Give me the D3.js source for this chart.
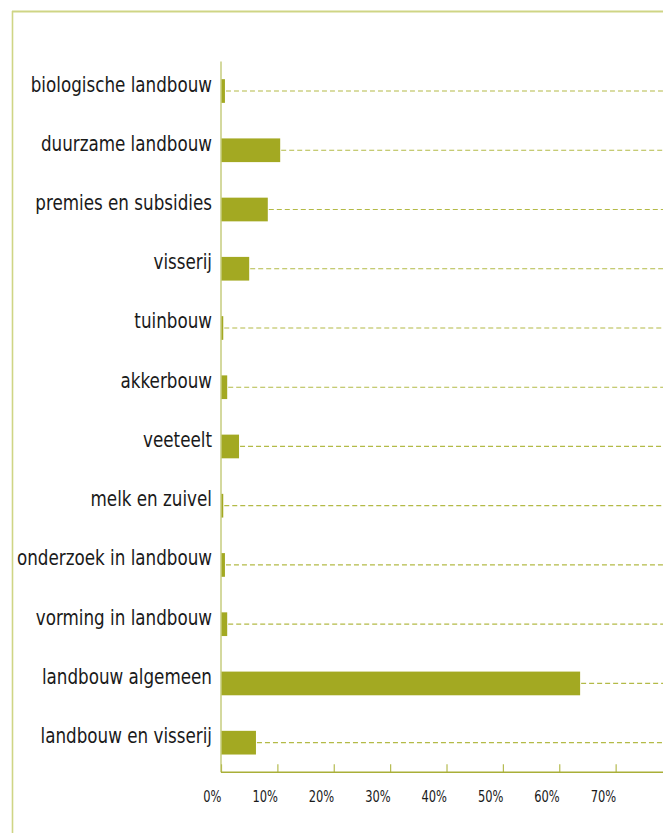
<!DOCTYPE html>
<html>
<head>
<meta charset="utf-8">
<script src="https://cdn.jsdelivr.net/npm/d3@7"></script>
<style>
  html, body { margin: 0; padding: 0; background: #ffffff; }
  svg { display: block; }
  .cat { font-family: "DejaVu Sans Condensed", "DejaVu Sans", sans-serif; font-stretch: condensed; font-size: 20.5px; fill: #1a1a1a; }
  .tick-label { font-family: "DejaVu Sans Condensed", "DejaVu Sans", sans-serif; font-stretch: condensed; font-size: 15px; fill: #1a1a1a; }
</style>
</head>
<body>
<script>
// Share of spending per agricultural domain (percent)
const categories = [
  "biologische landbouw",
  "duurzame landbouw",
  "premies en subsidies",
  "visserij",
  "tuinbouw",
  "akkerbouw",
  "veeteelt",
  "melk en zuivel",
  "onderzoek in landbouw",
  "vorming in landbouw",
  "landbouw algemeen",
  "landbouw en visserij"
];
const values = [0.7, 10.5, 8.3, 5.0, 0.4, 1.1, 3.2, 0.4, 0.7, 1.1, 63.7, 6.2];
const tickValues = [0, 10, 20, 30, 40, 50, 60, 70];
const tickLabels = ["0%", "10%", "20%", "30%", "40%", "50%", "60%", "70%"];

const W = 663, H = 833;
const plotLeft = 221, plotRight = 663, plotTop = 61.4, plotBottom = 772.3;
const labelRight = 212;      // right edge of category labels
const labelMaxWidth = 195;   // width of the longest category label

const svg = d3.select("body").append("svg")
  .attr("width", W).attr("height", H);

// Outer frame (top and left edges visible)
svg.append("line")
  .attr("x1", 12).attr("x2", W).attr("y1", 11.5).attr("y2", 11.5)
  .attr("stroke", "#cfd585").attr("stroke-width", 2);
svg.append("line")
  .attr("x1", 12.5).attr("x2", 12.5).attr("y1", 11).attr("y2", H)
  .attr("stroke", "#cfd585").attr("stroke-width", 1.6);

const x = d3.scaleLinear().domain([0, 78.4]).range([plotLeft, plotRight]);
const y = d3.scaleBand().domain(categories).range([plotTop, plotBottom])
  .paddingInner(0.6).paddingOuter(0.3);

const data = categories.map((c, i) => ({ cat: c, value: values[i] }));

// Dashed guide lines from each bar's end to the right edge
svg.append("g").selectAll("line")
  .data(data).join("line")
  .attr("x1", d => x(d.value) + 1)
  .attr("x2", plotRight)
  .attr("y1", d => y(d.cat) + y.bandwidth() / 2)
  .attr("y2", d => y(d.cat) + y.bandwidth() / 2)
  .attr("stroke", "#b3ba47")
  .attr("stroke-width", 1.2)
  .attr("stroke-dasharray", "5,3");

// Bars
svg.append("g").selectAll("rect")
  .data(data).join("rect")
  .attr("x", x(0))
  .attr("y", d => y(d.cat))
  .attr("width", d => x(d.value) - x(0))
  .attr("height", y.bandwidth())
  .attr("fill", "#a3a922");

// Vertical category axis line
svg.append("line")
  .attr("x1", x(0)).attr("x2", x(0)).attr("y1", plotTop).attr("y2", plotBottom)
  .attr("stroke", "#c6cd7e").attr("stroke-width", 1.5);

// Category labels
const labels = svg.append("g").selectAll("text")
  .data(data).join("text")
  .attr("class", "cat")
  .attr("x", labelRight)
  .attr("y", d => y(d.cat) + y.bandwidth() / 2 + 0.5)
  .attr("text-anchor", "end")
  .text(d => d.cat);

// Narrow the glyphs so the longest label fits the label column
const widest = d3.max(labels.nodes(), n => n.getComputedTextLength());
const squeeze = labelMaxWidth / widest;
labels.each(function () {
  const w = this.getComputedTextLength();
  d3.select(this)
    .attr("textLength", w * squeeze)
    .attr("lengthAdjust", "spacingAndGlyphs");
});

// Horizontal value axis
const xAxis = d3.axisBottom(x)
  .tickValues(tickValues)
  .tickSize(-8)
  .tickFormat((d, i) => tickLabels[i]);

const gx = svg.append("g")
  .attr("transform", `translate(0,${plotBottom})`)
  .call(xAxis);
gx.select(".domain").remove();
gx.append("line")
  .attr("x1", x(0)).attr("x2", plotRight).attr("y1", 0).attr("y2", 0)
  .attr("stroke", "#a9af38").attr("stroke-width", 1.5);
gx.selectAll(".tick line").attr("stroke", "#b5bb50").attr("stroke-width", 1.2);
const tickText = gx.selectAll(".tick text")
  .attr("class", "tick-label")
  .attr("text-anchor", "end")
  .attr("x", 0)
  .attr("y", 30)
  .attr("dy", 0)
  .attr("font-family", null)
  .attr("font-size", null);

// "70%" spans about 26px
const w70 = tickText.filter((d, i) => i === tickValues.length - 1).node().getComputedTextLength();
const tickSqueeze = 25.5 / w70;
tickText.each(function () {
  const w = this.getComputedTextLength();
  d3.select(this)
    .attr("textLength", w * tickSqueeze)
    .attr("lengthAdjust", "spacingAndGlyphs");
});
</script>
</body>
</html>
